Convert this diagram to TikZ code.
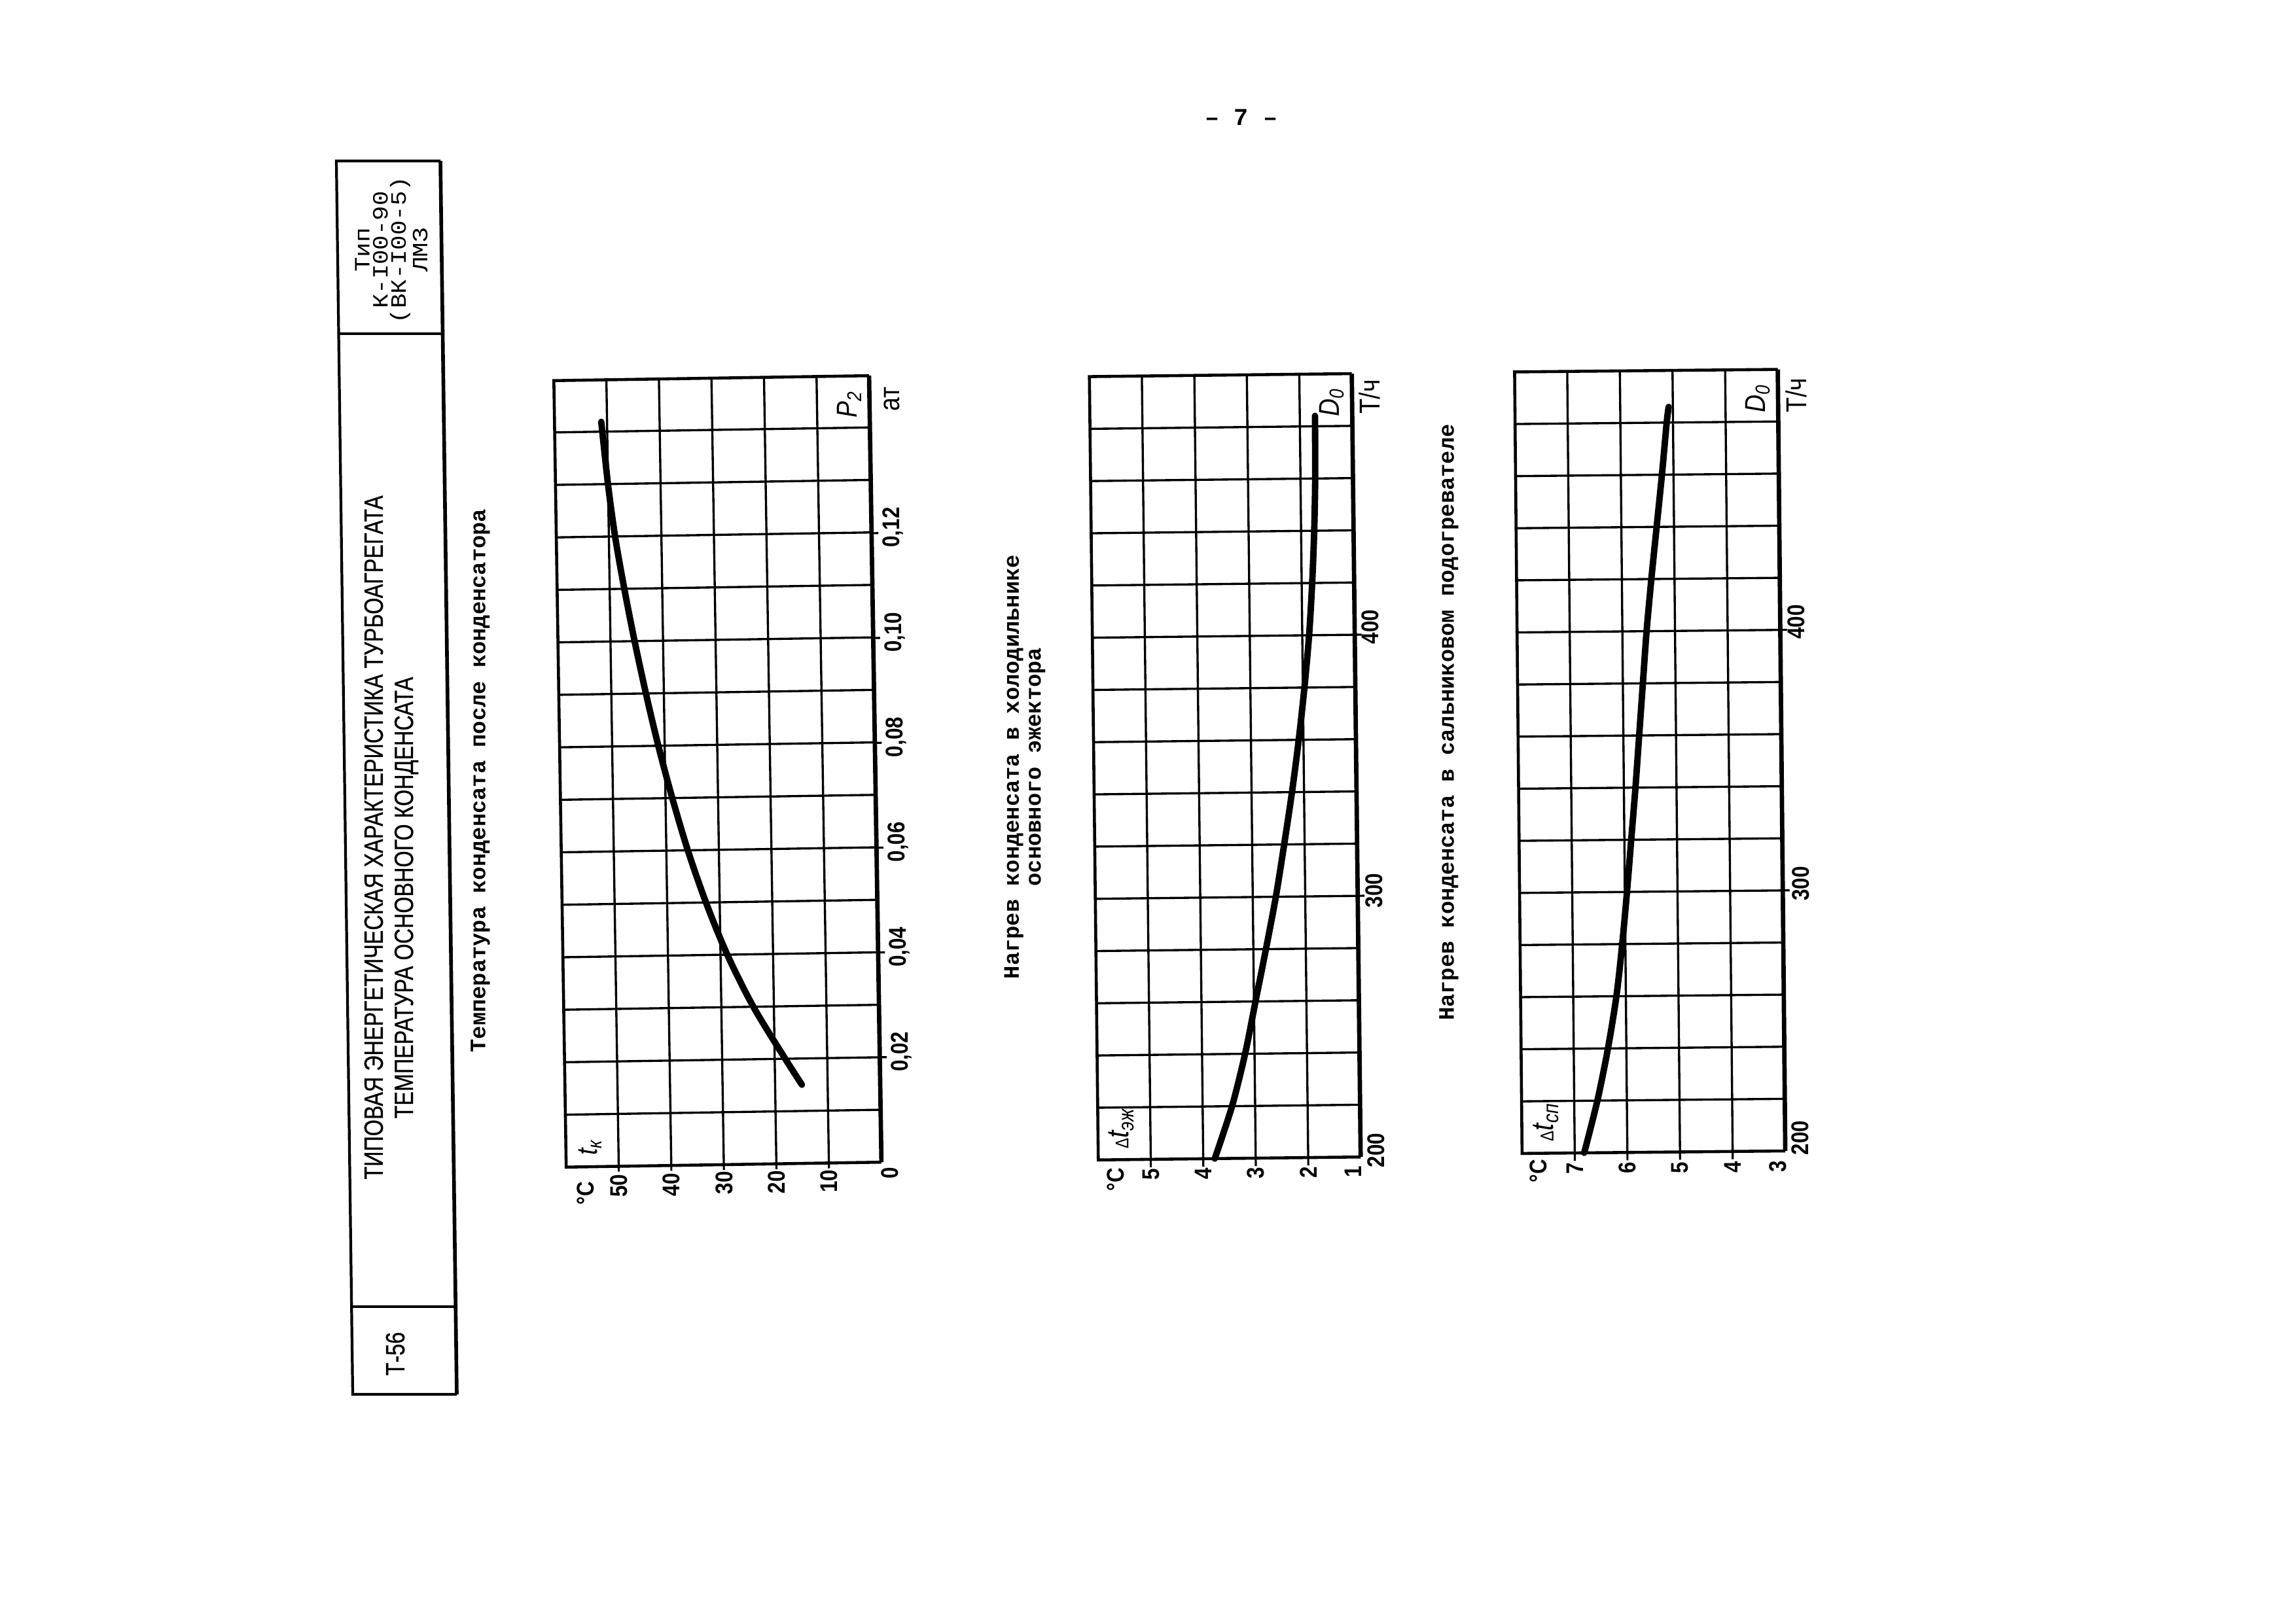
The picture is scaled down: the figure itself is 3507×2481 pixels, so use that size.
\documentclass[tikz,border=0pt]{standalone}
\usepackage{fontspec}
\usetikzlibrary{calc}
\newfontfamily\typewr{Liberation Mono}
\newfontfamily\widetypewr[FakeStretch=1.12]{Liberation Mono}
\newfontfamily\narrowsans[FakeStretch=0.8,FakeBold=0.6]{Liberation Sans}
\newfontfamily\axisfont[FakeStretch=0.85]{Liberation Sans}

\tikzset{
  gridline/.style={line width=0.95pt},
  frameline/.style={line width=1.3pt},
  axisline/.style={line width=1.9pt},
  tickline/.style={line width=0.9pt},
  curveline/.style={line width=2.8pt, line cap=round, line join=round},
  numlabel/.style={rotate=90, inner sep=0pt, font=\axisfont\bfseries\fontsize{10.5}{10.5}\selectfont},
  sublabel/.style={rotate=90, inner sep=0pt, font=\axisfont\fontsize{12.5}{12.5}\selectfont},
  charttitle/.style={rotate=90, inner sep=0pt, align=center, font=\typewr\bfseries\fontsize{9.6}{9.5}\selectfont},
  blocktext/.style={rotate=90, inner sep=0pt, font=\narrowsans\fontsize{11.5}{11.5}\selectfont},
}

\begin{document}
\begin{tikzpicture}[x=0.01cm,y=-0.01cm]
  \useasboundingbox (0,0) rectangle (3507,2481);

  % page number
  \node[font=\typewr\bfseries\fontsize{10.5}{10.5}\selectfont] (pagenum) at (1897,179) {– 7 –};

  % title block
  \coordinate (tbTL) at (514,246);
  \coordinate (tbTR) at (673,246);
  \coordinate (tbBL) at (539,2131);
  \coordinate (tbBR) at (698,2131);
  \draw[line width=1.2pt] (tbTR) -- (tbTL) -- (tbBL) -- (tbBR);
  \draw[line width=1.6pt] (tbTR) -- (tbBR);
  \draw[line width=1.1pt] ($(tbTL)!0.14!(tbBL)$) -- ($(tbTR)!0.14!(tbBR)$);
  \draw[line width=1.1pt] ($(tbTL)!0.929!(tbBL)$) -- ($(tbTR)!0.929!(tbBR)$);
  \node[rotate=90, inner sep=0pt, align=center, font=\widetypewr\fontsize{9.5}{7.9}\selectfont] (typ) at (598,382)
    {Тип\\К-I00-90\\(ВК-I00-5)\\ЛМЗ};
  \node[blocktext] (title1) at (571,1280) {ТИПОВАЯ ЭНЕРГЕТИЧЕСКАЯ ХАРАКТЕРИСТИКА ТУРБОАГРЕГАТА};
  \node[blocktext] (title2) at (621,1372) {ТЕМПЕРАТУРА ОСНОВНОГО КОНДЕНСАТА};
  \node[blocktext] (sheet) at (604,2069) {Т-56};

  % chart titles
  \node[charttitle] (head1) at (734,1193) {Температура конденсата после конденсатора};
  \node[charttitle] (head2) at (1566,1172) {Нагрев конденсата в холодильнике\\основного эжектора};
  \node[charttitle] (head3) at (2214,1104) {Нагрев конденсата в сальниковом подогревателе};

  % chart 1: t_k against P_2
  \begin{scope}[rotate around={0.9:(1096.75,1179.25)}]
  \begin{scope}[shift={(1337.5,1780)}, x=-0.08025cm, y=80.1cm]
    \foreach \t in {10,20,...,50} \draw[gridline] (\t,0) -- (\t,0.15);
    \foreach \p in {0.01,0.02,...,0.145} \draw[gridline] (0,\p) -- (60,\p);
    \draw[frameline] (0,0.15) -- (60,0.15) -- (60,0) -- (0,0);
    \draw[axisline] (0,0) -- (0,0.15);
    % routine for ticks
    \foreach \p in {0.02,0.04,...,0.125} \draw[tickline] (0,\p) -- (-1.3,\p);
    \foreach \t in {10,20,...,50} \draw[tickline] (\t,0) -- (\t,-0.001);
    \node[numlabel] (c1deg) at (56.4,-0.005) {°C};
    \node[numlabel] (c1t50) at (50,-0.0037) {50};
    \node[numlabel] (c1t40) at (40,-0.0037) {40};
    \node[numlabel] (c1t30) at (30,-0.0035) {30};
    \node[numlabel] (c1t20) at (20,-0.0035) {20};
    \node[numlabel] (c1t10) at (10,-0.0035) {10};
    \node[numlabel] (c1t0) at (-1.6,-0.0021) {0};
    \node[numlabel] (c1p02) at (-4.1,0.021) {0,02};
    \node[numlabel] (c1p04) at (-4.1,0.041) {0,04};
    \node[numlabel] (c1p06) at (-4.1,0.061) {0,06};
    \node[numlabel] (c1p08) at (-4.1,0.081) {0,08};
    \node[numlabel] (c1p10) at (-4.1,0.101) {0,10};
    \node[numlabel] (c1p12) at (-4.1,0.121) {0,12};
    \node[sublabel] (c1unit) at (-4.3,0.1455) {ат};
    \node[sublabel] (c1pres) at (3.9,0.1446) {\itshape P\textsubscript{2}};
    \node[sublabel] (c1temp) at (55.4,0.0037) {\itshape t\textsubscript{к}};
    \draw[curveline] plot[smooth] coordinates {(14.9,0.015) (18.0,0.02) (23.9,0.03) (28.7,0.04)
      (32.6,0.05) (35.9,0.06) (38.7,0.07) (41.2,0.08) (43.4,0.09) (45.4,0.10) (47.2,0.11)
      (48.8,0.12) (50.0,0.13) (51.1,0.142)};
  \end{scope}
  \end{scope}

  % chart 2: heating in the ejector cooler
  \begin{scope}[rotate around={0.65:(1872.1,1172.75)}]
  \begin{scope}[shift={(2152.65,2568.7)}, x=-0.8015cm, y=0.039885cm]
    \foreach \t in {2,3,4,5} \draw[gridline] (\t,200) -- (\t,500);
    \foreach \d in {220,240,...,480} \draw[gridline] (1,\d) -- (6,\d);
    \draw[frameline] (1,500) -- (6,500) -- (6,200) -- (1,200);
    \draw[axisline] (1,200) -- (1,500);
    % routine for ticks
    \foreach \d in {300,400} \draw[tickline] (1,\d) -- (0.87,\d);
    \foreach \t in {2,3,4,5} \draw[tickline] (\t,200) -- (\t,197);
    \node[numlabel] (c2deg) at (5.67,192.5) {°C};
    \node[numlabel] (c2t5) at (5,194.3) {5};
    \node[numlabel] (c2t4) at (4,194.3) {4};
    \node[numlabel] (c2t3) at (3,194.3) {3};
    \node[numlabel] (c2t2) at (2,194.3) {2};
    \node[numlabel] (c2t1) at (1.15,194.3) {1};
    \node[numlabel] (c2d200) at (0.71,202.5) {200};
    \node[numlabel] (c2d300) at (0.69,302) {300};
    \node[numlabel] (c2d400) at (0.71,403) {400};
    \node[sublabel] (c2unit) at (0.67,491) {Т/ч};
    \node[sublabel] (c2flow) at (1.39,489) {\itshape D\textsubscript{0}};
    \node[sublabel, font=\axisfont\fontsize{13.5}{13.5}\selectfont] (c2temp) at (5.56,212)
      {{\footnotesize Δ}\itshape t\textsubscript{эж}};
    \draw[curveline] plot[smooth] coordinates {(3.78,200) (3.44,220) (3.18,240) (2.97,260)
      (2.76,280) (2.56,300) (2.39,320) (2.23,340) (2.09,360) (1.97,380) (1.87,400)
      (1.80,420) (1.75,440) (1.72,460) (1.71,484)};
  \end{scope}
  \end{scope}

  % chart 3: heating in the gland heater
  \begin{scope}[rotate around={0.55:(2521.5,1163.75)}]
  \begin{scope}[shift={(2963.7,2557.3)}, x=-0.804cm, y=0.0398cm]
    \foreach \t in {4,5,6,7} \draw[gridline] (\t,200) -- (\t,500);
    \foreach \d in {220,240,...,480} \draw[gridline] (3,\d) -- (8,\d);
    \draw[frameline] (3,500) -- (8,500) -- (8,200) -- (3,200);
    \draw[axisline] (3,200) -- (3,500);
    % routine for ticks
    \foreach \d in {300,400} \draw[tickline] (3,\d) -- (2.87,\d);
    \foreach \t in {4,5,6,7} \draw[tickline] (\t,200) -- (\t,197);
    \node[numlabel] (c3deg) at (7.69,193.2) {°C};
    \node[numlabel] (c3t7) at (7,194) {7};
    \node[numlabel] (c3t6) at (6,194) {6};
    \node[numlabel] (c3t5) at (5,194) {5};
    \node[numlabel] (c3t4) at (4,194) {4};
    \node[numlabel] (c3t3) at (3.14,194) {3};
    \node[numlabel] (c3d200) at (2.71,205) {200};
    \node[numlabel] (c3d300) at (2.66,302.5) {300};
    \node[numlabel] (c3d400) at (2.7,403) {400};
    \node[sublabel] (c3unit) at (2.66,490) {Т/ч};
    \node[sublabel] (c3flow) at (3.39,489) {\itshape D\textsubscript{0}};
    \node[sublabel, font=\axisfont\fontsize{13.5}{13.5}\selectfont] (c3temp) at (7.54,212)
      {{\footnotesize Δ}\itshape t\textsubscript{сп}};
    \draw[curveline] plot[smooth] coordinates {(6.82,200) (6.56,220) (6.35,240) (6.18,260)
      (6.06,280) (5.96,300) (5.87,320) (5.78,340) (5.70,360) (5.62,380) (5.54,400)
      (5.44,420) (5.33,440) (5.22,460) (5.12,480) (5.08,486)};
  \end{scope}
  \end{scope}
\end{tikzpicture}
\end{document}
